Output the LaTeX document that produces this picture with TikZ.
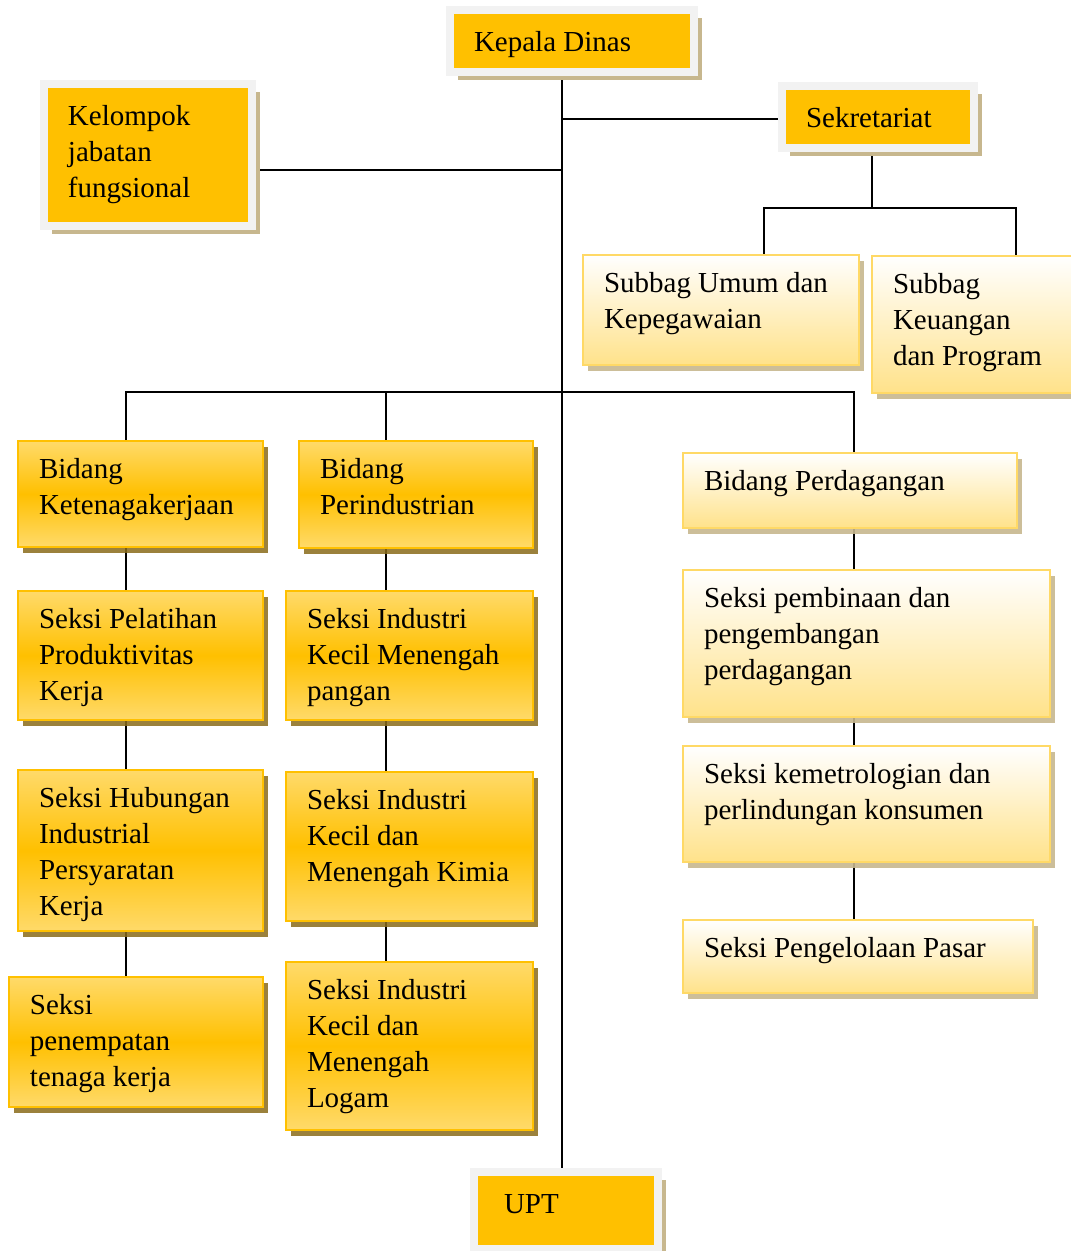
\documentclass[tikz,border=0pt]{standalone}
\usepackage{fontspec}
\setmainfont{Liberation Serif}
\usetikzlibrary{shadows}
\definecolor{org}{HTML}{FFC000}
\definecolor{frm}{HTML}{F2F2F2}
\definecolor{tanshadow}{HTML}{C7B78E}
\definecolor{darkshadow}{HTML}{8A6C1A}
\definecolor{lightbot}{HTML}{FFE28A}
\definecolor{lightborder}{HTML}{FFD966}
\definecolor{orglight}{HTML}{FFDA6A}
\pgfdeclarelayer{back}
\pgfdeclarelayer{bg}
\pgfsetlayers{back,bg,main}
\tikzset{
 base/.style={anchor=north west, inner sep=0pt, outer sep=0pt, font=\fontsize{29}{36}\selectfont},
 framebox/.style={base, fill=org, draw=frm, line width=8pt,
   drop shadow={shadow xshift=8pt, shadow yshift=-8pt, fill=tanshadow, opacity=1}},
 lightbox/.style={base, draw=lightborder, line width=2pt, top color=white, bottom color=lightbot,
   drop shadow={shadow xshift=5pt, shadow yshift=-6pt, fill=tanshadow, opacity=0.9}},
 orangebox/.style={base, draw=org, line width=2pt, top color=orglight, bottom color=orglight, middle color=org,
   drop shadow={shadow xshift=5pt, shadow yshift=-6pt, fill=darkshadow, opacity=0.85}},
 conn/.style={line width=1.6pt, black},
}
\newcommand\bx[7]{\node[#2] (#1) at (#3,#4) {\parbox[t][#6pt][t]{#5pt}{\raggedright\leftskip=21pt\rule{0pt}{37pt}#7}};}
\newcommand\fbx[7]{\node[framebox] (#1) at (#2,#3) {\parbox[t][#5pt][t]{#4pt}{\raggedright\leftskip=#6pt\rule{0pt}{41pt}#7}};}
\begin{document}
\begin{tikzpicture}[x=1pt,y=-1pt]
\useasboundingbox (0,0) rectangle (1071,1251);
\begin{pgfonlayer}{back}
\fill[white] (0,0) rectangle (1071,1251);
\end{pgfonlayer}
\clip (0,0) rectangle (1071,1251);
% top level
\fbx{kepala}{450}{10}{244}{62}{24}{Kepala Dinas}
\fbx{sek}{782}{86}{192}{62}{24}{Sekretariat}
\fbx{kel}{44}{84}{208}{142}{24}{Kelompok\\jabatan\\fungsional}
\fbx{upt}{474}{1172}{184}{77}{30}{UPT}
% subbag
\bx{sub1}{lightbox}{583}{255}{276}{110}{Subbag Umum dan\\Kepegawaian}
\bx{sub2}{lightbox}{872}{256}{208}{137}{Subbag\\Keuangan\\dan Program}
% perdagangan column
\bx{perdag}{lightbox}{683}{453}{334}{75}{Bidang Perdagangan}
\bx{pemb}{lightbox}{683}{570}{367}{147}{Seksi pembinaan dan\\pengembangan\\perdagangan}
\bx{kem}{lightbox}{683}{746}{367}{116}{Seksi kemetrologian dan\\perlindungan konsumen}
\bx{pas}{lightbox}{683}{920}{350}{73}{Seksi Pengelolaan Pasar}
% ketenagakerjaan column
\bx{bket}{orangebox}{18}{441}{245}{106}{Bidang\\Ketenagakerjaan}
\bx{pel}{orangebox}{18}{591}{245}{129}{Seksi Pelatihan\\Produktivitas\\Kerja}
\bx{hub}{orangebox}{18}{770}{245}{161}{Seksi Hubungan\\Industrial\\Persyaratan\\Kerja}
\bx{pen}{orangebox}{9}{977}{254}{130}{Seksi\\penempatan\\tenaga kerja}
% perindustrian column
\bx{bper}{orangebox}{299}{441}{234}{107}{Bidang\\Perindustrian}
\bx{pan}{orangebox}{286}{591}{247}{129}{Seksi Industri\\Kecil Menengah\\pangan}
\bx{kim}{orangebox}{286}{772}{247}{149}{Seksi Industri\\Kecil dan\\Menengah Kimia}
\bx{log}{orangebox}{286}{962}{247}{168}{Seksi Industri\\Kecil dan\\Menengah\\Logam}
% junction coordinates
\coordinate (spine) at (562,0);
\coordinate (sk) at (562,119);
\coordinate (kj) at (562,170);
\coordinate (sj) at (872,208);
\coordinate (s1top) at (764,208);
\coordinate (s2top) at (1016,208);
\coordinate (b1) at (126,392);
\coordinate (b2) at (386,392);
\coordinate (b3) at (854,392);
\begin{pgfonlayer}{bg}
\draw[conn] (kepala.south -| spine) -- (upt.north -| spine);
\draw[conn] (sk) -- (sek.west |- sk);
\draw[conn] (kel.east |- kj) -- (kj);
\draw[conn] (sek.south -| sj) -- (sj);
\draw[conn] (sub1.north -| s1top) -- (s1top) -- (s2top) -- (sub2.north -| s2top);
\draw[conn] (bket.north -| b1) -- (b1) -- (b3) -- (perdag.north -| b3);
\draw[conn] (b2) -- (bper.north -| b2);
\draw[conn] (bket.south -| b1) -- (pel.north -| b1);
\draw[conn] (pel.south -| b1) -- (hub.north -| b1);
\draw[conn] (hub.south -| b1) -- (pen.north -| b1);
\draw[conn] (bper.south -| b2) -- (pan.north -| b2);
\draw[conn] (pan.south -| b2) -- (kim.north -| b2);
\draw[conn] (kim.south -| b2) -- (log.north -| b2);
\draw[conn] (perdag.south -| b3) -- (pemb.north -| b3);
\draw[conn] (pemb.south -| b3) -- (kem.north -| b3);
\draw[conn] (kem.south -| b3) -- (pas.north -| b3);
\end{pgfonlayer}
\end{tikzpicture}
\end{document}
